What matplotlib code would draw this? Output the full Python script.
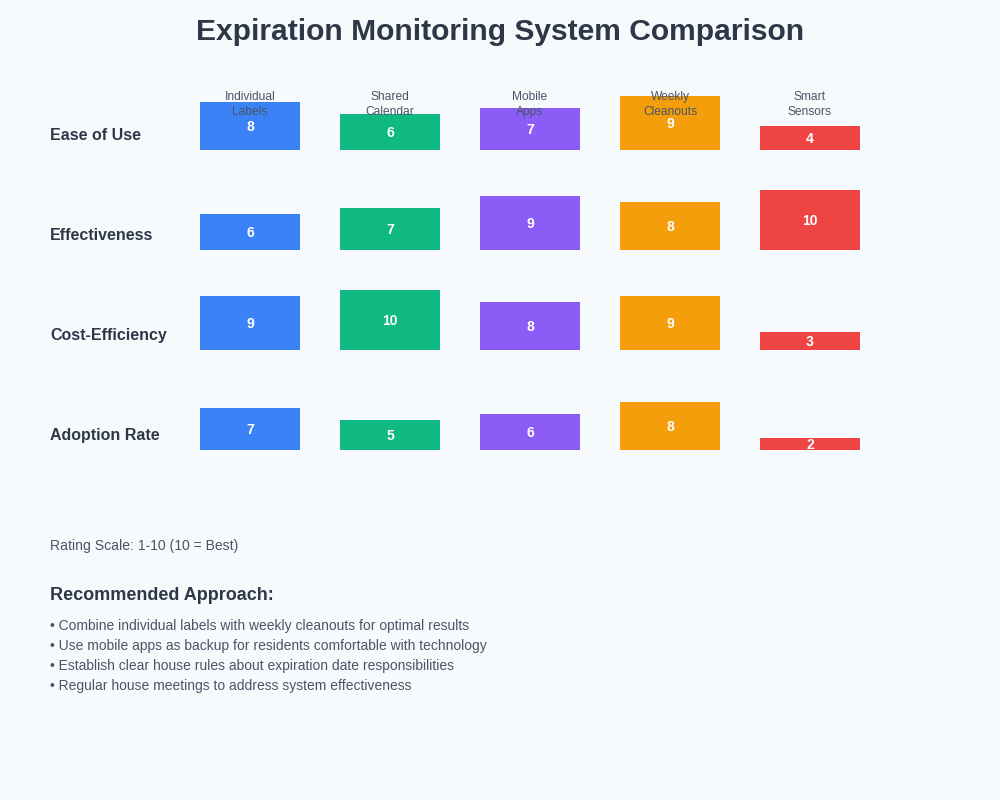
#!/usr/bin/env python3

import matplotlib.pyplot as plt

plt.rcParams['font.family'] = ['Liberation Sans', 'DejaVu Sans']

TITLE = "Expiration Monitoring System Comparison"
systems = ["Individual\nLabels", "Shared\nCalendar", "Mobile\nApps", "Weekly\nCleanouts", "Smart\nSensors"]
criteria = ["Ease of Use", "Effectiveness", "Cost-Efficiency", "Adoption Rate"]
colors = ["#3b82f6", "#10b981", "#8b5cf6", "#f59e0b", "#ef4444"]

ease = [8, 6, 7, 9, 4]
effectiveness = [6, 7, 9, 8, 10]
cost = [9, 10, 8, 9, 3]
adoption = [7, 5, 6, 8, 2]
scores = [ease, effectiveness, cost, adoption]

recommendations = [
    "Combine individual labels with weekly cleanouts for optimal results",
    "Use mobile apps as backup for residents comfortable with technology",
    "Establish clear house rules about expiration date responsibilities",
    "Regular house meetings to address system effectiveness",
]

BG = "#f7fafc"
DARK = "#2d3748"
MID = "#4a5568"

PX = 0.72  # px -> pt at dpi 100

fig = plt.figure(figsize=(10, 8), dpi=100, facecolor=BG)
ax = fig.add_axes([0, 0, 1, 1])
ax.set_facecolor(BG)
ax.set_xlim(0, 1000)
ax.set_ylim(800, 0)
ax.axis("off")

ax.text(500, 32, TITLE, ha="center", va="center", fontsize=30 * PX,
        fontweight="bold", color=DARK)

x0 = 200
dx = 140
bw = 100
y0 = 150
dy = 100
scale = 6

for r, (name, vals) in enumerate(zip(criteria, scores)):
    base = y0 + r * dy
    ax.text(50, base - 14.5, name, ha="left", va="center", fontsize=16 * PX,
            fontweight="bold", color=DARK)
    xs = [x0 + c * dx for c in range(len(vals))]
    hs = [-v * scale for v in vals]
    ax.bar(xs, hs, width=bw, bottom=base, align="edge", color=colors, zorder=2)
    for x, v in zip(xs, vals):
        ax.text(x + bw / 2, base - v * scale / 2 + 1, str(v), ha="center", va="center",
                fontsize=14 * PX, fontweight="bold", color="white", zorder=4)

for c, s in enumerate(systems):
    ax.text(x0 + c * dx + bw / 2, 104.5, s, ha="center", va="center",
            fontsize=12 * PX, color=MID, linespacing=1.25, zorder=3)

ax.text(50, 546, "Rating Scale: 1-10 (10 = Best)", ha="left", va="center",
        fontsize=14 * PX, color=MID)
ax.text(50, 595.5, "Recommended Approach:", ha="left", va="center",
        fontsize=18 * PX, fontweight="bold", color=DARK)
for i, line in enumerate(recommendations):
    ax.text(50, 626 + i * 20, "\u2022 " + line, ha="left", va="center",
            fontsize=13.9 * PX, color=MID)

fig.savefig("out.png", dpi=100, facecolor=BG)
